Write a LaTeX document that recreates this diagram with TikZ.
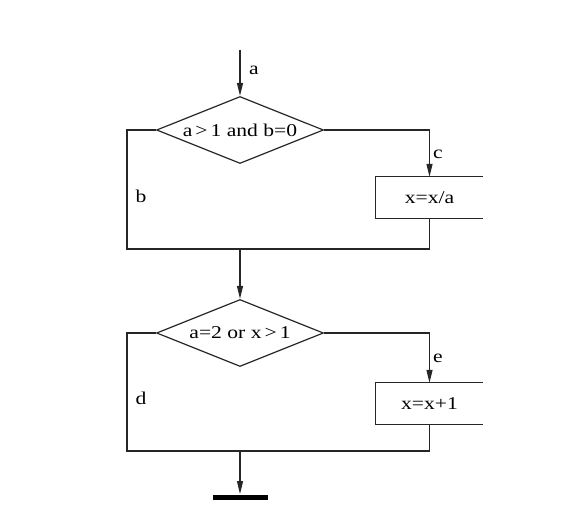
\documentclass[tikz,border=0pt]{standalone}
\usepackage{fontspec}
\setmainfont[FakeStretch=1.2]{Liberation Serif}
\usetikzlibrary{shapes.geometric,arrows.meta}
\begin{document}
\begin{tikzpicture}[x=1pt,y=-1pt,
  every node/.style={font=\fontsize{18}{21}\selectfont},
  line/.style={line width=1.2pt,draw=black!85},
  arr/.style={line, -{Triangle[length=13pt,width=6pt]}},
  cond/.style={diamond,line,inner sep=0pt,aspect=2.5,minimum width=167pt,minimum height=67pt},
  proc/.style={rectangle,inner sep=0pt,minimum width=107pt,minimum height=41pt},
  lab/.style={anchor=center}]
\useasboundingbox (0,0) rectangle (580,510);
\coordinate (s) at (240,50);
\node[cond] (d1) at (240,130) {a\,>\,1 and b=0};
\node[proc] (b1) at (429.5,197.5) {x=x/a};
\coordinate (m1) at (240,249);
\node[cond] (d2) at (240,333) {a=2 or x\,>\,1};
\node[proc] (b2) at (429.5,403.5) {x=x+1};
\coordinate (m2) at (240,451);
\coordinate (e) at (240,494);
\coordinate (bl) at (213,497);
\coordinate (br) at (268,497);
% open boxes
\draw[line] (b1.north east) -- (b1.north west) -- (b1.south west) -- (b1.south east);
\draw[line] (b2.north east) -- (b2.north west) -- (b2.south west) -- (b2.south east);
% connectors
\draw[arr] (s) -- (d1.north);
\draw[arr] (d1.east) -| (b1.north);
\draw[line] (d1.west) -| (127,249) -| (b1.south);
\draw[arr] (m1) -- (d2.north);
\draw[arr] (d2.east) -| (b2.north);
\draw[line] (d2.west) -| (127,451) -| (b2.south);
\draw[arr] (m2) -- (e);
\draw[line width=5pt] (bl) -- (br);
% labels
\node[lab] at (254,70) {a};
\node[lab] at (438,154) {c};
\node[lab] at (141,196) {b};
\node[lab] at (438,358) {e};
\node[lab] at (141,398) {d};
\end{tikzpicture}
\end{document}
